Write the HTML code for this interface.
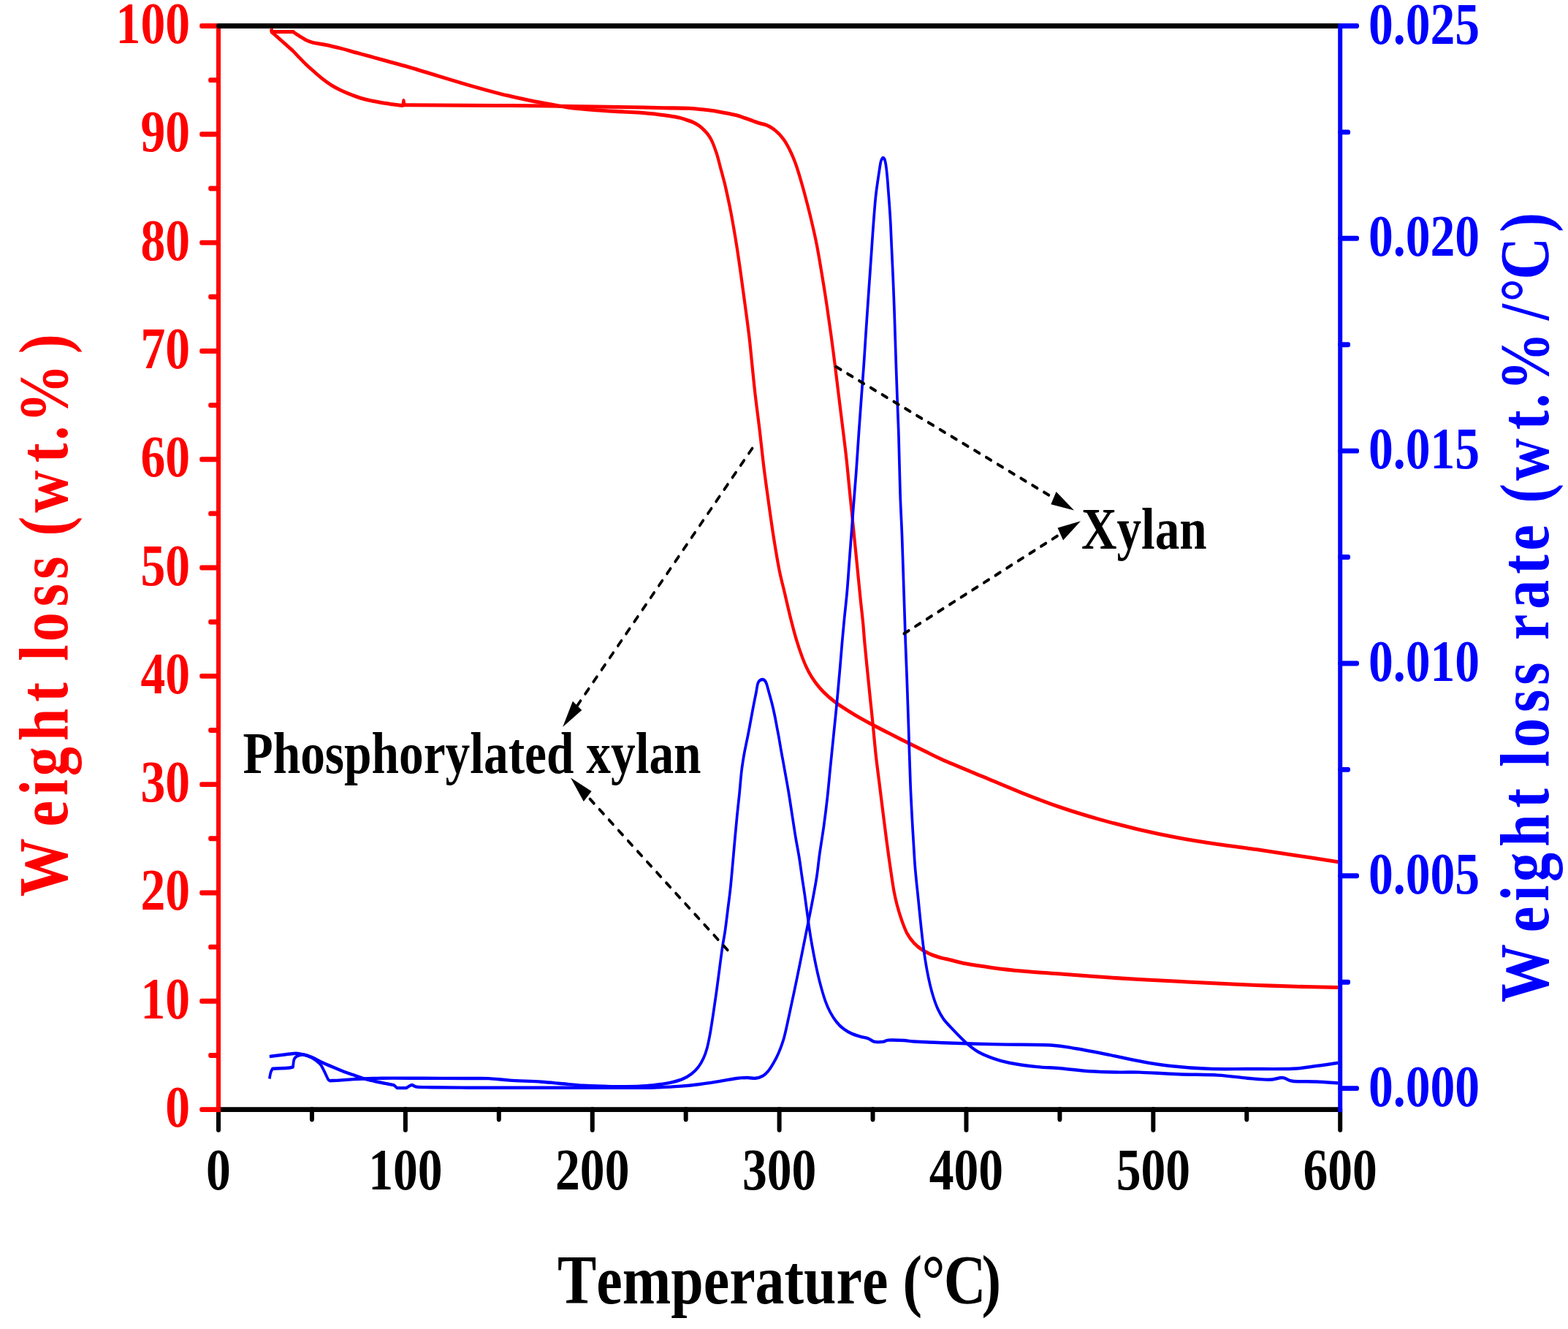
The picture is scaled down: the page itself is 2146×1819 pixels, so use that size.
<!DOCTYPE html>
<html lang="en"><head><meta charset="utf-8"><title>TGA and DTG curves of xylan and phosphorylated xylan</title>
<style>html,body{margin:0;padding:0;background:#fff}body{width:2146px;height:1819px;overflow:hidden}svg{display:block}text{font-family:"Liberation Serif",serif;font-weight:bold;font-kerning:none;font-variant-ligatures:none}</style></head><body>
<svg width="2146" height="1819" viewBox="0 0 2146 1819">
<rect width="2146" height="1819" fill="#fff"/>
<g transform="scale(1 1.2)" fill="none">
<g stroke-linejoin="round" stroke-linecap="butt">
<path d="M371.5 32.92L371.8 36.25L401.3 36.25C402.37 36.89 404.72 38.49 407.7 40.08C410.68 41.68 415.75 44.4 419.2 45.83C422.65 47.26 424.55 47.86 428.4 48.67C432.25 49.47 436.15 49.62 442.3 50.67C448.45 51.71 457.62 53.32 465.3 54.92C472.98 56.51 480.7 58.49 488.4 60.25C496.1 62.01 503.82 63.74 511.5 65.5C519.18 67.26 526.82 69.07 534.5 70.83C542.18 72.6 549.9 74.25 557.6 76.08C565.3 77.92 572.38 79.74 580.7 81.83C589.02 83.93 596.62 85.93 607.5 88.67C618.38 91.4 633.18 95.19 646 98.25C658.82 101.31 675.4 105.04 684.4 107C693.4 108.96 691 108.38 700 110C709 111.62 725.58 114.68 738.4 116.75C751.22 118.82 764.08 120.94 776.9 122.42C789.72 123.89 802.48 124.74 815.3 125.58C828.12 126.43 843.02 126.96 853.8 127.5C864.58 128.04 871.78 128.29 880 128.83C888.22 129.38 897.02 130.18 903.1 130.75C909.18 131.32 912.02 131.67 916.5 132.25C920.98 132.83 926.23 133.51 930 134.25C933.77 134.99 936.08 135.82 939.1 136.67C942.12 137.51 945.08 138.17 948.1 139.33C951.12 140.5 954.55 142.1 957.2 143.67C959.85 145.24 962.12 147.21 964 148.75C965.88 150.29 967.13 151.46 968.5 152.92C969.87 154.38 971.13 155.99 972.2 157.5C973.27 159.01 974.05 160.43 974.9 162C975.75 163.57 976.57 165.33 977.3 166.92C978.03 168.5 978.63 169.92 979.3 171.5C979.97 173.08 980.58 174.44 981.3 176.42C982.02 178.39 982.75 180.69 983.6 183.33C984.45 185.97 985.42 189.15 986.4 192.25C987.38 195.35 988.4 198.39 989.5 201.92C990.6 205.44 991.22 206.79 993 213.42C994.78 220.04 997.7 230.72 1000.2 241.67C1002.7 252.61 1005.75 267.49 1008 279.08C1010.25 290.68 1011.78 300 1013.7 311.25C1015.62 322.5 1017.57 334.54 1019.5 346.58C1021.43 358.62 1023.73 372.53 1025.3 383.5C1026.87 394.47 1027.52 401.33 1028.9 412.42C1030.28 423.5 1031.78 436.78 1033.6 450C1035.42 463.22 1037.82 477.83 1039.8 491.75C1041.78 505.67 1043.42 519.57 1045.5 533.5C1047.58 547.43 1050.05 561.94 1052.3 575.33C1054.55 588.72 1056.6 601.25 1059 613.83C1061.4 626.42 1064.28 640.65 1066.7 650.83C1069.12 661.01 1071.08 666.35 1073.5 674.92C1075.92 683.49 1078.47 693.15 1081.2 702.25C1083.93 711.35 1087 721.38 1089.9 729.5C1092.8 737.62 1095.87 745 1098.6 751C1101.33 757 1103.42 760.94 1106.3 765.5C1109.18 770.06 1112.37 774.32 1115.9 778.33C1119.43 782.35 1123 785.83 1127.5 789.58C1132 793.33 1137.45 797.36 1142.9 800.83C1148.35 804.31 1154.1 807.21 1160.2 810.42C1166.3 813.63 1173.72 817.32 1179.5 820.08C1185.28 822.85 1188.47 824.19 1194.9 827C1201.33 829.81 1210.07 833.51 1218.1 836.92C1226.13 840.32 1235.07 844.07 1243.1 847.42C1251.13 850.76 1258.48 853.82 1266.3 857C1274.12 860.18 1277.08 861.78 1290 866.5C1302.92 871.22 1325.87 879.08 1343.8 885.33C1361.73 891.58 1379.65 898.08 1397.6 904C1415.55 909.92 1433.55 915.72 1451.5 920.83C1469.45 925.94 1487.37 930.44 1505.3 934.67C1523.23 938.89 1541.17 942.68 1559.1 946.17C1577.03 949.65 1594.97 952.79 1612.9 955.58C1630.83 958.38 1648.75 960.68 1666.7 962.92C1684.65 965.15 1702.65 966.86 1720.6 969C1738.55 971.14 1755.92 973.39 1774.4 975.75C1792.88 978.11 1821.98 981.93 1831.5 983.17" stroke="#f00" stroke-width="4.2"/>
<path d="M371.5 32.92L371.8 36.5L400.7 57.83C402.25 59.19 406.92 63.36 410 66C413.08 68.64 415.75 70.94 419.2 73.67C422.65 76.39 426.85 79.53 430.7 82.33C434.55 85.14 438.45 88.01 442.3 90.5C446.15 92.99 449.97 95.25 453.8 97.25C457.63 99.25 461.45 100.9 465.3 102.5C469.15 104.1 473.05 105.51 476.9 106.83C480.75 108.15 484.57 109.33 488.4 110.42C492.23 111.5 496.05 112.49 499.9 113.33C503.75 114.18 507.65 114.85 511.5 115.5C515.35 116.15 519.17 116.72 523 117.25C526.83 117.78 530.65 118.21 534.5 118.67C538.35 119.12 543.32 119.72 546.1 120C548.88 120.28 550.35 120.28 551.2 120.33L552.4 114.58L553.6 119.83C554.08 119.83 548.77 119.81 556.5 119.83C564.23 119.86 576.08 119.89 600 120C623.92 120.11 664.12 120.24 700 120.5C735.88 120.76 785.3 121.24 815.3 121.58C845.3 121.93 864.42 122.33 880 122.58C895.58 122.83 898.23 122.92 908.8 123.08C919.37 123.25 934.75 123.29 943.4 123.58C952.05 123.88 953.97 124.19 960.7 124.83C967.43 125.47 976.1 126.35 983.8 127.42C991.5 128.49 1000.87 130.01 1006.9 131.25C1012.93 132.49 1016.15 133.75 1020 134.83C1023.85 135.92 1026.82 136.82 1030 137.75C1033.18 138.68 1036.08 139.64 1039.1 140.42C1042.12 141.19 1045.08 141.43 1048.1 142.42C1051.12 143.4 1054.17 144.61 1057.2 146.33C1060.23 148.06 1063.65 150.51 1066.3 152.75C1068.95 154.99 1071.13 157.44 1073.1 159.75C1075.07 162.06 1076.58 164.32 1078.1 166.58C1079.62 168.85 1080.93 171.12 1082.2 173.33C1083.47 175.54 1084.68 177.81 1085.7 179.83C1086.72 181.86 1087.43 183.53 1088.3 185.5C1089.17 187.47 1089.72 188.61 1090.9 191.67C1092.08 194.72 1093.67 198.89 1095.4 203.83C1097.13 208.78 1099 214.14 1101.3 221.33C1103.6 228.53 1106.45 237.38 1109.2 247C1111.95 256.62 1115.08 267.57 1117.8 279.08C1120.52 290.6 1123.25 304.83 1125.5 316.08C1127.75 327.33 1129.37 335.88 1131.3 346.58C1133.23 357.29 1135.17 368.56 1137.1 380.33C1139.03 392.11 1141.13 405.64 1142.9 417.25C1144.67 428.86 1146.1 439.18 1147.7 450C1149.3 460.82 1150.73 470.12 1152.5 482.17C1154.27 494.21 1156.53 508.88 1158.3 522.25C1160.07 535.63 1161.48 549.03 1163.1 562.42C1164.72 575.81 1166.38 589.19 1168 602.58C1169.62 615.97 1171.2 629.36 1172.8 642.75C1174.4 656.14 1176.22 671.67 1177.6 682.92C1178.98 694.17 1180.13 701.85 1181.1 710.25C1182.07 718.65 1182.38 724.12 1183.4 733.33C1184.42 742.54 1185.92 754.79 1187.2 765.5C1188.48 776.21 1189.82 787.15 1191.1 797.58C1192.38 808.01 1193.62 817.38 1194.9 828.08C1196.18 838.79 1197.35 850.85 1198.8 861.83C1200.25 872.82 1202 883.29 1203.6 894C1205.2 904.71 1206.78 915.38 1208.4 926.08C1210.02 936.79 1211.68 948.07 1213.3 958.25C1214.92 968.43 1216.42 977.53 1218.1 987.17C1219.78 996.81 1221.8 1008.58 1223.4 1016.08C1225 1023.58 1226.02 1026.82 1227.7 1032.17C1229.38 1037.51 1231.25 1042.82 1233.5 1048.17C1235.75 1053.51 1238.32 1059.69 1241.2 1064.25C1244.08 1068.81 1247.27 1072.29 1250.8 1075.5C1254.33 1078.71 1258.22 1081.22 1262.4 1083.5C1266.58 1085.78 1271.4 1087.61 1275.9 1089.17C1280.4 1090.72 1285.38 1091.9 1289.4 1092.83C1293.42 1093.76 1294.52 1093.68 1300 1094.75C1305.48 1095.82 1312.75 1097.76 1322.3 1099.25C1331.85 1100.74 1344.75 1102.29 1357.3 1103.67C1369.85 1105.04 1381.9 1106.29 1397.6 1107.5C1413.3 1108.71 1433.55 1109.79 1451.5 1110.92C1469.45 1112.04 1487.37 1113.21 1505.3 1114.25C1523.23 1115.29 1541.17 1116.31 1559.1 1117.17C1577.03 1118.03 1594.97 1118.67 1612.9 1119.42C1630.83 1120.17 1648.75 1120.96 1666.7 1121.67C1684.65 1122.38 1702.65 1123.07 1720.6 1123.67C1738.55 1124.26 1755.92 1124.83 1774.4 1125.25C1792.88 1125.67 1821.98 1126.01 1831.5 1126.17" stroke="#f00" stroke-width="4.2"/>
<path d="M368.8 1230.33C369.08 1229.17 369.8 1225.24 370.5 1223.33C371.2 1221.43 372.58 1219.65 373 1218.92C376.33 1218.79 388.33 1218.47 393 1218.17C397.67 1217.86 399.67 1217.26 401 1217.08C401.25 1215.63 401.58 1210.42 402.5 1208.33C403.42 1206.25 404.42 1205.49 406.5 1204.58C408.58 1203.68 411.67 1202.64 415 1202.92C418.33 1203.19 422.67 1204.49 426.5 1206.25C430.33 1208.01 435.12 1210.89 438 1213.5C440.88 1216.11 441.93 1218.96 443.8 1221.92C445.67 1224.88 447.83 1229.46 449.2 1231.25C450.57 1233.04 451.53 1232.43 452 1232.67C454.17 1232.58 459.63 1232.46 465 1232.17C470.37 1231.88 474.52 1231.32 484.2 1230.92C493.88 1230.51 507.13 1229.93 523.1 1229.75C539.07 1229.57 560.52 1229.79 580 1229.83C599.48 1229.88 625.2 1229.96 640 1230C654.8 1230.04 659.18 1229.72 668.8 1230.08C678.42 1230.44 685.68 1231.53 697.7 1232.17C709.72 1232.81 728.9 1233.26 740.9 1233.92C752.9 1234.57 760.08 1235.38 769.7 1236.08C779.32 1236.79 788.98 1237.68 798.6 1238.17C808.22 1238.65 817.8 1238.81 827.4 1239C837 1239.19 846.6 1239.42 856.2 1239.33C865.8 1239.25 876.58 1239 885 1238.5C893.42 1238 900.98 1237 906.7 1236.33C912.42 1235.67 914.63 1235.47 919.3 1234.5C923.97 1233.53 930.2 1232.1 934.7 1230.5C939.2 1228.9 942.77 1227.19 946.3 1224.92C949.83 1222.64 953.17 1219.78 955.9 1216.83C958.63 1213.89 960.77 1210.72 962.7 1207.25C964.63 1203.78 966.07 1200.29 967.5 1196C968.93 1191.71 970.18 1186.32 971.3 1181.5C972.42 1176.68 973.23 1172.17 974.2 1167.08C975.17 1162 975.97 1157.43 977.1 1151C978.23 1144.57 979.72 1136.26 981 1128.5C982.28 1120.74 983.52 1112.44 984.8 1104.42C986.08 1096.39 987.42 1087.56 988.7 1080.33C989.98 1073.11 991.22 1068.58 992.5 1061.08C993.78 1053.58 995.27 1042.83 996.4 1035.33C997.53 1027.83 998.5 1021.97 999.3 1016.08C1000.1 1010.19 1000.57 1005.62 1001.2 1000C1001.83 994.38 1002.3 989.83 1003.1 982.33C1003.9 974.83 1005.03 963.83 1006 955C1006.97 946.17 1007.93 937.36 1008.9 929.33C1009.87 921.31 1010.83 914.88 1011.8 906.83C1012.77 898.79 1013.82 887.78 1014.7 881.08C1015.58 874.39 1016.32 870.88 1017.1 866.67C1017.88 862.46 1018.47 859.85 1019.4 855.83C1020.33 851.82 1021.63 847 1022.7 842.58C1023.77 838.17 1024.8 833.74 1025.8 829.33C1026.8 824.93 1027.72 820.57 1028.7 816.17C1029.68 811.76 1030.67 807.33 1031.7 802.92C1032.73 798.5 1034 793.53 1034.9 789.67C1035.8 785.81 1036.25 782.03 1037.1 779.75C1037.95 777.47 1038.93 776.79 1040 776C1041.07 775.21 1042.42 775 1043.5 775C1044.58 775 1045.58 775.21 1046.5 776C1047.42 776.79 1048.02 777.47 1049 779.75C1049.98 782.03 1051.12 785.81 1052.4 789.67C1053.68 793.53 1055.38 798.5 1056.7 802.92C1058.02 807.33 1059.2 811.76 1060.3 816.17C1061.4 820.57 1062.3 824.93 1063.3 829.33C1064.3 833.74 1065.35 838.17 1066.3 842.58C1067.25 847 1068.15 851.82 1069 855.83C1069.85 859.85 1070.48 862.46 1071.4 866.67C1072.32 870.88 1073.18 874.93 1074.5 881.08C1075.82 887.24 1077.7 895.54 1079.3 903.58C1080.9 911.62 1082.5 920.76 1084.1 929.33C1085.7 937.9 1087.3 946.97 1088.9 955C1090.5 963.03 1092.25 970 1093.7 977.5C1095.15 985 1096.32 992.76 1097.6 1000C1098.88 1007.24 1100.12 1013.42 1101.4 1020.92C1102.68 1028.42 1104 1037.24 1105.3 1045C1106.6 1052.76 1107.75 1060.01 1109.2 1067.5C1110.65 1074.99 1112.4 1082.96 1114 1089.92C1115.6 1096.88 1117.2 1103.35 1118.8 1109.25C1120.4 1115.15 1121.83 1119.99 1123.6 1125.33C1125.37 1130.68 1127.32 1136.51 1129.4 1141.33C1131.48 1146.15 1133.53 1150.22 1136.1 1154.25C1138.67 1158.28 1141.73 1162.29 1144.8 1165.5C1147.87 1168.71 1150.97 1171.24 1154.5 1173.5C1158.03 1175.76 1162.15 1177.61 1166 1179.08C1169.85 1180.56 1173.9 1181.44 1177.6 1182.33C1181.3 1183.22 1184.98 1183.43 1188.2 1184.42C1191.42 1185.4 1193.53 1187.61 1196.9 1188.25C1200.27 1188.89 1205.2 1188.57 1208.4 1188.25C1211.6 1187.93 1211.28 1186.6 1216.1 1186.33C1220.92 1186.07 1231.52 1186.4 1237.3 1186.67C1243.08 1186.93 1242.02 1187.47 1250.8 1187.92C1259.58 1188.36 1270.92 1188.79 1290 1189.33C1309.08 1189.88 1340.63 1190.71 1365.3 1191.17C1389.97 1191.62 1420.05 1191.26 1438 1192.08C1455.95 1192.9 1459.55 1194.22 1473 1196.08C1486.45 1197.94 1504.35 1200.89 1518.7 1203.25C1533.05 1205.61 1545.63 1208.19 1559.1 1210.25C1572.57 1212.31 1583.8 1214.13 1599.5 1215.58C1615.2 1217.04 1635.37 1218.4 1653.3 1219C1671.23 1219.6 1687.82 1219.17 1707.1 1219.17C1726.38 1219.17 1753.3 1219.56 1769 1219C1784.7 1218.44 1790.88 1216.96 1801.3 1215.83C1811.72 1214.71 1826.47 1212.85 1831.5 1212.25" stroke="#00f" stroke-width="3.7"/>
<path d="M368.8 1205.08C373.62 1204.58 390.97 1202.64 397.7 1202.08C404.43 1201.53 404.4 1201.14 409.2 1201.75C414 1202.36 421.22 1204.08 426.5 1205.75C431.78 1207.42 436.1 1209.88 440.9 1211.75C445.7 1213.62 450.5 1215.31 455.3 1217C460.1 1218.69 464.88 1220.39 469.7 1221.92C474.52 1223.44 479.38 1224.76 484.2 1226.17C489.02 1227.57 493.8 1229.14 498.6 1230.33C503.4 1231.53 508.2 1232.43 513 1233.33C517.8 1234.24 523.08 1235.04 527.4 1235.75C531.72 1236.46 536.98 1237.28 538.9 1237.58L543.3 1240.92L556.2 1240.92C557.4 1240.36 561 1237.79 563.4 1237.58C565.8 1237.38 566.03 1239.24 570.6 1239.67C575.17 1240.1 579.23 1240.01 590.8 1240.17C602.37 1240.32 621.8 1240.51 640 1240.58C658.2 1240.65 673.33 1240.58 700 1240.58C726.67 1240.58 770 1240.58 800 1240.58C830 1240.58 863.33 1240.64 880 1240.58C896.67 1240.53 891.87 1240.5 900 1240.25C908.13 1240 919.18 1239.68 928.8 1239.08C938.42 1238.49 948.08 1237.68 957.7 1236.67C967.32 1235.65 978.1 1234.11 986.5 1233C994.9 1231.89 1002.1 1230.64 1008.1 1230C1014.1 1229.36 1018.17 1229.19 1022.5 1229.17C1026.83 1229.14 1030.48 1230.19 1034.1 1229.83C1037.72 1229.47 1041.32 1228.36 1044.2 1227C1047.08 1225.64 1049 1224.07 1051.4 1221.67C1053.8 1219.26 1056.2 1216.1 1058.6 1212.58C1061 1209.07 1063.4 1205.39 1065.8 1200.58C1068.2 1195.78 1070.6 1190.96 1073 1183.75C1075.4 1176.54 1077.8 1166.43 1080.2 1157.33C1082.6 1148.24 1084.98 1138.79 1087.4 1129.17C1089.82 1119.54 1092.52 1108.53 1094.7 1099.58C1096.88 1090.64 1098.57 1083.53 1100.5 1075.5C1102.43 1067.47 1104.38 1059.44 1106.3 1051.42C1108.22 1043.39 1110.08 1035.9 1112 1027.33C1113.92 1018.76 1116.18 1008.83 1117.8 1000C1119.42 991.17 1120.08 983.97 1121.7 974.33C1123.32 964.69 1125.73 952.89 1127.5 942.17C1129.27 931.44 1130.87 920.71 1132.3 910C1133.73 899.29 1134.82 888.63 1136.1 877.92C1137.38 867.21 1138.7 856.46 1140 845.75C1141.3 835.04 1142.78 823.03 1143.9 813.67C1145.02 804.31 1145.75 798.15 1146.7 789.58C1147.65 781.01 1148.63 771.63 1149.6 762.25C1150.57 752.88 1151.53 742.54 1152.5 733.33C1153.47 724.12 1154.27 716.74 1155.4 707C1156.53 697.26 1158.17 685.62 1159.3 674.92C1160.43 664.21 1161.23 653.46 1162.2 642.75C1163.17 632.04 1164.13 621.38 1165.1 610.67C1166.07 599.96 1166.88 590.56 1168 578.5C1169.12 566.44 1170.52 553.06 1171.8 538.33C1173.08 523.61 1174.47 504.89 1175.7 490.17C1176.93 475.44 1178.12 462.25 1179.2 450C1180.28 437.75 1181.33 426.92 1182.2 416.67C1183.07 406.42 1183.55 399.19 1184.4 388.5C1185.25 377.81 1186.32 364.51 1187.3 352.5C1188.28 340.49 1189.3 328.43 1190.3 316.42C1191.3 304.4 1192.48 290.24 1193.3 280.42C1194.12 270.6 1194.47 265.72 1195.2 257.5C1195.93 249.28 1197 237.69 1197.7 231.08C1198.4 224.47 1198.65 222.79 1199.4 217.83C1200.15 212.87 1201.43 205.74 1202.2 201.33C1202.97 196.93 1203.47 194.18 1204 191.42C1204.53 188.65 1204.9 186.44 1205.4 184.75C1205.9 183.06 1206.43 182.04 1207 181.25C1207.57 180.46 1208.23 180 1208.8 180C1209.37 180 1209.92 180.46 1210.4 181.25C1210.88 182.04 1211.27 183.06 1211.7 184.75C1212.13 186.44 1212.52 188.1 1213 191.42C1213.48 194.74 1214.13 200.26 1214.6 204.67C1215.07 209.07 1215.4 213.43 1215.8 217.83C1216.2 222.24 1216.62 226.67 1217 231.08C1217.38 235.5 1217.77 239.93 1218.1 244.33C1218.43 248.74 1218.65 251.49 1219 257.5C1219.35 263.51 1219.67 270.6 1220.2 280.42C1220.73 290.24 1221.58 304.4 1222.2 316.42C1222.82 328.43 1223.38 340.51 1223.9 352.5C1224.42 364.49 1224.88 377.64 1225.3 388.33C1225.72 399.03 1225.98 406.39 1226.4 416.67C1226.82 426.94 1227.2 436.42 1227.8 450C1228.4 463.58 1229.3 479.43 1230 498.17C1230.7 516.9 1231.25 543.67 1232 562.42C1232.75 581.17 1233.77 594.6 1234.5 610.67C1235.23 626.74 1235.77 642.78 1236.4 658.83C1237.03 674.89 1237.82 694.58 1238.3 707C1238.78 719.42 1238.82 722.25 1239.3 733.33C1239.78 744.42 1240.5 757.43 1241.2 773.5C1241.9 789.57 1242.7 809.67 1243.5 829.75C1244.3 849.83 1245.1 875.26 1246 894C1246.9 912.74 1247.93 927.44 1248.9 942.17C1249.87 956.89 1250.95 972.14 1251.8 982.33C1252.65 992.53 1253.2 996.38 1254 1003.33C1254.8 1010.29 1255.52 1015.26 1256.6 1024.08C1257.68 1032.9 1259.22 1046.35 1260.5 1056.25C1261.78 1066.15 1263.02 1075.47 1264.3 1083.5C1265.58 1091.53 1266.75 1097.72 1268.2 1104.42C1269.65 1111.11 1271.4 1118.04 1273 1123.67C1274.6 1129.29 1276.03 1133.61 1277.8 1138.17C1279.57 1142.72 1281.35 1146.99 1283.6 1151C1285.85 1155.01 1287.98 1158.47 1291.3 1162.25C1294.62 1166.03 1298.33 1169.15 1303.5 1173.67C1308.67 1178.18 1316.48 1185.03 1322.3 1189.33C1328.12 1193.64 1332.12 1196.5 1338.4 1199.5C1344.68 1202.5 1352.82 1205.21 1360 1207.33C1367.18 1209.46 1371.63 1210.68 1381.5 1212.25C1391.37 1213.82 1407.53 1215.71 1419.2 1216.75C1430.87 1217.79 1439.4 1217.64 1451.5 1218.5C1463.6 1219.36 1478.35 1221.17 1491.8 1221.92C1505.25 1222.67 1520.98 1222.82 1532.2 1223C1543.42 1223.18 1545.65 1222.62 1559.1 1223C1572.55 1223.38 1594.97 1224.69 1612.9 1225.25C1630.83 1225.81 1651 1225.58 1666.7 1226.33C1682.4 1227.08 1695.43 1228.89 1707.1 1229.75C1718.77 1230.61 1728.63 1231.58 1736.7 1231.5C1744.77 1231.42 1750.12 1228.99 1755.5 1229.25C1760.88 1229.51 1761.37 1232.33 1769 1233.08C1776.63 1233.83 1790.88 1233.38 1801.3 1233.75C1811.72 1234.12 1826.47 1235.07 1831.5 1235.33" stroke="#00f" stroke-width="3.7"/>
</g>
<g stroke="#000" fill="#000">
<path d="M1144.2 418.33L1441.94 567.98" fill="none" stroke-width="3.5" stroke-dasharray="7.3 10.4" stroke-linecap="round"/>
<path d="M1470 582.08L1438.35 575.13L1445.54 560.83Z" stroke="none"/>
<path d="M1237.3 722.67L1451.26 609.1" fill="none" stroke-width="3.5" stroke-dasharray="7.3 10.4" stroke-linecap="round"/>
<path d="M1479 594.38L1455.02 616.16L1447.51 602.03Z" stroke="none"/>
<path d="M1029.5 511.42L790.05 804.84" fill="none" stroke-width="3.5" stroke-dasharray="7.3 10.4" stroke-linecap="round"/>
<path d="M770.2 829.17L783.85 799.78L796.25 809.9Z" stroke="none"/>
<path d="M995.7 1083.58L804.17 908.36" fill="none" stroke-width="3.5" stroke-dasharray="7.3 10.4" stroke-linecap="round"/>
<path d="M781 887.17L809.57 902.46L798.77 914.26Z" stroke="none"/>
</g>
<g stroke-linecap="round" stroke-width="6">
<path d="M299 1265.5H1834.2" stroke="#000" stroke-linecap="butt" stroke-width="5.75"/>
<path d="M299 1265.5V1288.5M426.93 1265.5V1276.5M554.87 1265.5V1288.5M682.8 1265.5V1276.5M810.73 1265.5V1288.5M938.67 1265.5V1276.5M1066.6 1265.5V1288.5M1194.53 1265.5V1276.5M1322.47 1265.5V1288.5M1450.4 1265.5V1276.5M1578.33 1265.5V1288.5M1706.27 1265.5V1276.5M1834.2 1265.5V1288.5" stroke="#000"/>
<path d="M299 29.58V1268.5" stroke="#f00" stroke-linecap="butt"/>
<path d="M299 1265.5H276M299 1203.7H288M299 1141.91H276M299 1080.11H288M299 1018.32H276M299 956.52H288M299 894.72H276M299 832.93H288M299 771.13H276M299 709.34H288M299 647.54H276M299 585.75H288M299 523.95H276M299 462.15H288M299 400.36H276M299 338.56H288M299 276.77H276M299 214.97H288M299 153.17H276M299 91.38H288M299 29.58H276" stroke="#f00" stroke-width="5.75"/>
<path d="M299 29.58H1834.2" stroke="#000" stroke-width="5.75"/>
<path d="M1834.2 29.58V1268.5" stroke="#00f" stroke-linecap="butt"/>
<path d="M1834.2 1241.33H1857.2M1834.2 1120.16H1845.2M1834.2 998.98H1857.2M1834.2 877.81H1845.2M1834.2 756.63H1857.2M1834.2 635.46H1845.2M1834.2 514.28H1857.2M1834.2 393.11H1845.2M1834.2 271.93H1857.2M1834.2 150.76H1845.2M1834.2 29.58H1857.2" stroke="#00f" stroke-width="5.75"/>
</g>
</g>
<text transform="translate(260 1542.1) scale(0.845 1)" font-size="80" fill="#f00" text-anchor="end">0</text>
<text transform="translate(260 1393.79) scale(0.845 1)" font-size="80" fill="#f00" text-anchor="end">10</text>
<text transform="translate(260 1245.48) scale(0.845 1)" font-size="80" fill="#f00" text-anchor="end">20</text>
<text transform="translate(260 1097.17) scale(0.845 1)" font-size="80" fill="#f00" text-anchor="end">30</text>
<text transform="translate(260 948.86) scale(0.845 1)" font-size="80" fill="#f00" text-anchor="end">40</text>
<text transform="translate(260 800.55) scale(0.845 1)" font-size="80" fill="#f00" text-anchor="end">50</text>
<text transform="translate(260 652.24) scale(0.845 1)" font-size="80" fill="#f00" text-anchor="end">60</text>
<text transform="translate(260 503.93) scale(0.845 1)" font-size="80" fill="#f00" text-anchor="end">70</text>
<text transform="translate(260 355.62) scale(0.845 1)" font-size="80" fill="#f00" text-anchor="end">80</text>
<text transform="translate(260 207.31) scale(0.845 1)" font-size="80" fill="#f00" text-anchor="end">90</text>
<text transform="translate(260 59) scale(0.845 1)" font-size="80" fill="#f00" text-anchor="end">100</text>
<text transform="translate(1873 1513.6) scale(0.845 1)" font-size="80" fill="#00f" text-anchor="start">0.000</text>
<text transform="translate(1873 1222.78) scale(0.845 1)" font-size="80" fill="#00f" text-anchor="start">0.005</text>
<text transform="translate(1873 931.96) scale(0.845 1)" font-size="80" fill="#00f" text-anchor="start">0.010</text>
<text transform="translate(1873 641.14) scale(0.845 1)" font-size="80" fill="#00f" text-anchor="start">0.015</text>
<text transform="translate(1873 350.32) scale(0.845 1)" font-size="80" fill="#00f" text-anchor="start">0.020</text>
<text transform="translate(1873 59.5) scale(0.845 1)" font-size="80" fill="#00f" text-anchor="start">0.025</text>
<text transform="translate(299 1628) scale(0.845 1)" font-size="80" fill="#000" text-anchor="middle">0</text>
<text transform="translate(554.87 1628) scale(0.845 1)" font-size="80" fill="#000" text-anchor="middle">100</text>
<text transform="translate(810.73 1628) scale(0.845 1)" font-size="80" fill="#000" text-anchor="middle">200</text>
<text transform="translate(1066.6 1628) scale(0.845 1)" font-size="80" fill="#000" text-anchor="middle">300</text>
<text transform="translate(1322.47 1628) scale(0.845 1)" font-size="80" fill="#000" text-anchor="middle">400</text>
<text transform="translate(1578.33 1628) scale(0.845 1)" font-size="80" fill="#000" text-anchor="middle">500</text>
<text transform="translate(1834.2 1628) scale(0.845 1)" font-size="80" fill="#000" text-anchor="middle">600</text>
<text transform="translate(763 1783.7) scale(0.832 1)" font-size="96" fill="#000" x="0 64.03 106.64 186.61 240 282.61 325.22 373.22 405.19 458.58 501.19 543.8 567.8 599.04 635.39 697.63">Temperature (°C)</text>
<text transform="translate(1480 751) scale(0.84 1)" font-size="80" fill="#000" text-anchor="start">Xylan</text>
<text transform="translate(332.5 1057.7) scale(0.8423 1)" font-size="80" fill="#000" text-anchor="start">Phosphorylated xylan</text>
<text transform="translate(92.3 1227.5) rotate(-90) scale(0.835 1)" font-size="96" fill="#f00" x="0 114.97 166 197.94 255.43 319.37 357.65 386.4 418.34 475.82 520.57 565.31 591.65 629.58 711.77 748.14 777.36 890.42">Weight loss (wt.%)</text>
<text transform="translate(2119 1372.3) rotate(-90) scale(0.835 1)" font-size="96" fill="#00f" x="0 114.97 166 197.94 255.43 319.37 357.65 386.4 418.34 475.82 520.57 565.31 594.05 645.08 702.56 740.85 791.88 818.82 855.31 938.94 974.71 1002.98 1118.66 1148.69 1185.09 1262.84">Weight loss rate (wt.%/°C)</text>
</svg></body></html>
